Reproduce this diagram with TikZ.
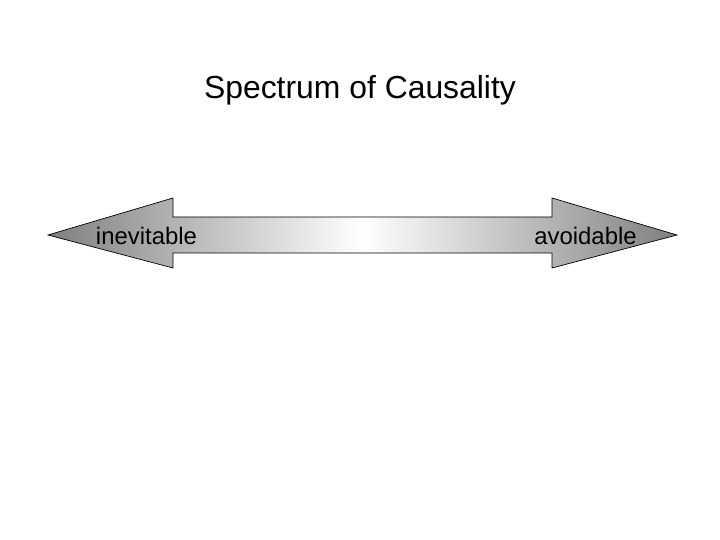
\documentclass[tikz,border=0pt]{standalone}
\usepackage{fontspec}
\setmainfont{Liberation Sans}
\begin{document}
\begin{tikzpicture}[x=1bp,y=-1bp,
  spec/.style={draw=black, line width=0.7pt, line join=miter, left color=black!50, right color=black!50, middle color=white},
  lbl/.style={font=\fontsize{24}{28}\selectfont, inner sep=0pt}]
\useasboundingbox (0,0) rectangle (720,540);
\node[font=\fontsize{32}{38}\selectfont, inner sep=0pt] (title) at (360,90) {Spectrum of Causality};
\path[spec] (48,235) -- (173,198) -- (173,217) -- (552,217) -- (552,198) -- (677,235)
  -- (552,268) -- (552,253) -- (173,253) -- (173,268) -- cycle;
\node[lbl] (inev) at (146.5,236) {inevitable};
\node[lbl] (avoid) at (585.5,236) {avoidable};
\end{tikzpicture}
\end{document}
